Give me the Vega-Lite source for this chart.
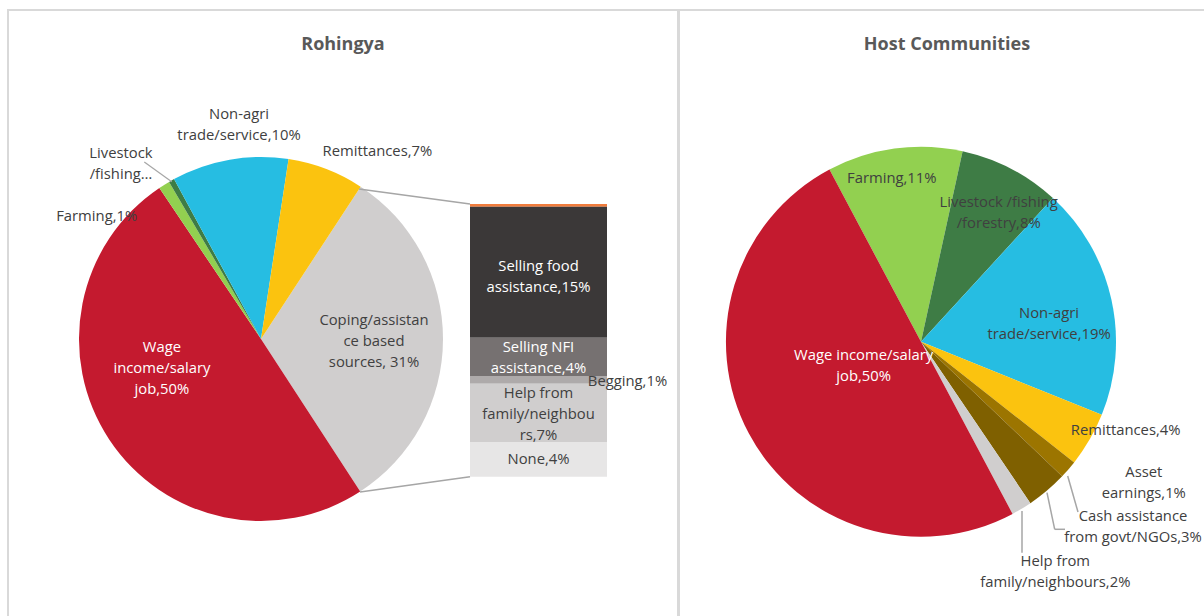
{
  "$schema": "https://vega.github.io/schema/vega-lite/v6.json",
  "padding": {"left": 7, "top": 9, "right": 0, "bottom": 0},
  "spacing": -2,
  "background": "white",
  "config": {
    "view": {"stroke": "#d9d9d9", "strokeWidth": 2},
    "font": "Open Sans",
    "text": {"font": "Open Sans", "fontSize": 14.8, "lineHeight": 21, "lineBreak": "\n", "color": "#404040", "baseline": "middle", "align": "center"},
    "title": {"font": "Open Sans", "fontSize": 18, "fontWeight": "bold", "color": "#595959", "anchor": "middle"}
  },
  "resolve": {"scale": {"color": "independent", "theta": "independent", "y": "independent"}},
  "datasets": {
    "roh": [
      {"i": 1, "cat": "Coping/assistance based sources", "value": 31.6, "label": "Coping/assistan\nce based\nsources, 31%"},
      {"i": 2, "cat": "Wage income/salary job", "value": 49.75, "label": "Wage\nincome/salary\njob,50%"},
      {"i": 3, "cat": "Farming", "value": 1.0, "label": "Farming,1%"},
      {"i": 4, "cat": "Livestock/fishing/forestry", "value": 0.5, "label": "Livestock\n/fishing…"},
      {"i": 5, "cat": "Non-agri trade/service", "value": 10.35, "label": "Non-agri\ntrade/service,10%"},
      {"i": 6, "cat": "Remittances", "value": 6.8, "label": "Remittances,7%"}
    ],
    "rohBar": [
      {"i": 1, "cat": "Other", "value": 0.31, "label": ""},
      {"i": 2, "cat": "Selling food assistance", "value": 15.18, "label": "Selling food\nassistance,15%"},
      {"i": 3, "cat": "Selling NFI assistance", "value": 4.44, "label": "Selling NFI\nassistance,4%"},
      {"i": 4, "cat": "Begging", "value": 0.89, "label": "Begging,1%"},
      {"i": 5, "cat": "Help from family/neighbours", "value": 6.76, "label": "Help from\nfamily/neighbou\nrs,7%"},
      {"i": 6, "cat": "None", "value": 4.02, "label": "None,4%"}
    ],
    "host": [
      {"i": 1, "cat": "Farming", "value": 11.2, "label": "Farming,11%"},
      {"i": 2, "cat": "Livestock/fishing/forestry", "value": 8.4, "label": "Livestock /fishing\n/forestry,8%"},
      {"i": 3, "cat": "Non-agri trade/service", "value": 19.3, "label": "Non-agri\ntrade/service,19%"},
      {"i": 4, "cat": "Remittances", "value": 4.5, "label": "Remittances,4%"},
      {"i": 5, "cat": "Asset earnings", "value": 1.5, "label": "Asset\nearnings,1%"},
      {"i": 6, "cat": "Cash assistance from govt/NGOs", "value": 3.4, "label": "Cash assistance\nfrom govt/NGOs,3%"},
      {"i": 7, "cat": "Help from family/neighbours", "value": 1.7, "label": "Help from\nfamily/neighbours,2%"},
      {"i": 8, "cat": "Wage income/salary job", "value": 50.0, "label": "Wage income/salary\njob,50%"}
    ]
  },
  "hconcat": [
    {
      "width": 670,
      "height": 620,
      "title": {"text": "Rohingya", "offset": -44},
      "layer": [
        {
          "data": {"name": "roh"},
          "mark": {"type": "arc", "radius": 182},
          "encoding": {
            "theta": {"field": "value", "type": "quantitative", "stack": true, "scale": {"range": [0.5794, 6.8626]}},
            "order": {"field": "i", "type": "quantitative"},
            "color": {"field": "cat", "type": "nominal", "legend": null, "scale": {
              "domain": ["Coping/assistance based sources", "Wage income/salary job", "Farming", "Livestock/fishing/forestry", "Non-agri trade/service", "Remittances", "Other", "Selling food assistance", "Selling NFI assistance", "Begging", "Help from family/neighbours", "None"],
              "range": ["#d0cece", "#c41a2f", "#92d050", "#3e7c45", "#26bde2", "#fbc30f", "#f07c3c", "#3b3838", "#767171", "#aeaaaa", "#d0cece", "#e7e6e6"]}},
            "x": {"value": 253},
            "y": {"value": 329}
          }
        },
        {
          "data": {"name": "rohBar"},
          "mark": {"type": "bar", "orient": "vertical"},
          "encoding": {
            "x": {"value": 462},
            "x2": {"value": 599},
            "y": {"field": "value", "type": "quantitative", "stack": "zero", "axis": null, "scale": {"domain": [0, 31.6], "range": [466.7, 194], "nice": false}},
            "order": {"field": "i", "type": "quantitative", "sort": "descending"},
            "color": {"field": "cat", "type": "nominal", "legend": null}
          }
        },
        {
          "data": {"values": [{}]},
          "mark": {"type": "rule", "color": "#a6a6a6", "strokeWidth": 1.5},
          "encoding": {"x": {"value": 351}, "y": {"value": 179}, "x2": {"value": 462}, "y2": {"value": 194}}
        },
        {
          "data": {"values": [{}]},
          "mark": {"type": "rule", "color": "#a6a6a6", "strokeWidth": 1.5},
          "encoding": {"x": {"value": 352}, "y": {"value": 482}, "x2": {"value": 462}, "y2": {"value": 466.7}}
        },
        {
          "data": {"values": [{}]},
          "mark": {"type": "rule", "color": "#a6a6a6", "strokeWidth": 1.2},
          "encoding": {"x": {"value": 136.3}, "y": {"value": 152}, "x2": {"value": 163.7}, "y2": {"value": 171.7}}
        },
        {
          "data": {"name": "rohBar"},
          "mark": {"type": "text", "color": "white", "dy": 60.3},
          "encoding": {
            "x": {"value": 530.5},
            "y": {"field": "value", "type": "quantitative", "stack": "zero"},
            "order": {"field": "i", "type": "quantitative", "sort": "descending"},
            "text": {"condition": {"test": "datum.i == 2", "field": "label", "type": "nominal"}, "value": ""}
          }
        },
        {
          "data": {"name": "rohBar"},
          "mark": {"type": "text", "color": "white", "dy": 10.8},
          "encoding": {
            "x": {"value": 530.5},
            "y": {"field": "value", "type": "quantitative", "stack": "zero"},
            "order": {"field": "i", "type": "quantitative", "sort": "descending"},
            "text": {"condition": {"test": "datum.i == 3", "field": "label", "type": "nominal"}, "value": ""}
          }
        },
        {
          "data": {"name": "rohBar"},
          "mark": {"type": "text", "dx": 89, "dy": 6.5},
          "encoding": {
            "x": {"value": 530.5},
            "y": {"field": "value", "type": "quantitative", "stack": "zero"},
            "order": {"field": "i", "type": "quantitative", "sort": "descending"},
            "text": {"condition": {"test": "datum.i == 4", "field": "label", "type": "nominal"}, "value": ""}
          }
        },
        {
          "data": {"name": "rohBar"},
          "mark": {"type": "text", "dy": 10.3},
          "encoding": {
            "x": {"value": 530.5},
            "y": {"field": "value", "type": "quantitative", "stack": "zero"},
            "order": {"field": "i", "type": "quantitative", "sort": "descending"},
            "text": {"condition": {"test": "datum.i == 5", "field": "label", "type": "nominal"}, "value": ""}
          }
        },
        {
          "data": {"name": "rohBar"},
          "mark": {"type": "text", "dy": 18},
          "encoding": {
            "x": {"value": 530.5},
            "y": {"field": "value", "type": "quantitative", "stack": "zero"},
            "order": {"field": "i", "type": "quantitative", "sort": "descending"},
            "text": {"condition": {"test": "datum.i == 6", "field": "label", "type": "nominal"}, "value": ""}
          }
        },
        {
          "data": {"name": "roh"},
          "mark": {"type": "text", "radius": 90, "dx": -24, "dy": -41, "color": "white"},
          "encoding": {
            "theta": {"field": "value", "type": "quantitative", "stack": true},
            "order": {"field": "i", "type": "quantitative"},
            "x": {"value": 253}, "y": {"value": 329},
            "text": {"condition": {"test": "datum.i == 2", "field": "label", "type": "nominal"}, "value": ""}
          }
        },
        {
          "data": {"name": "roh"},
          "mark": {"type": "text", "radius": 113, "dy": -18},
          "encoding": {
            "theta": {"field": "value", "type": "quantitative", "stack": true},
            "order": {"field": "i", "type": "quantitative"},
            "x": {"value": 253}, "y": {"value": 329},
            "text": {"condition": {"test": "datum.i == 1", "field": "label", "type": "nominal"}, "value": ""}
          }
        },
        {
          "data": {"name": "roh"},
          "mark": {"type": "text", "radius": 150, "dx": -44, "dy": 5, "align": "right"},
          "encoding": {
            "theta": {"field": "value", "type": "quantitative", "stack": true},
            "order": {"field": "i", "type": "quantitative"},
            "x": {"value": 253}, "y": {"value": 329},
            "text": {"condition": {"test": "datum.i == 3", "field": "label", "type": "nominal"}, "value": ""}
          }
        },
        {
          "data": {"name": "roh"},
          "mark": {"type": "text", "radius": 230, "dx": -27, "dy": 15.5},
          "encoding": {
            "theta": {"field": "value", "type": "quantitative", "stack": true},
            "order": {"field": "i", "type": "quantitative"},
            "x": {"value": 253}, "y": {"value": 329},
            "text": {"condition": {"test": "datum.i == 4", "field": "label", "type": "nominal"}, "value": ""}
          }
        },
        {
          "data": {"name": "roh"},
          "mark": {"type": "text", "radius": 215, "dx": 15, "dy": -12.5},
          "encoding": {
            "theta": {"field": "value", "type": "quantitative", "stack": true},
            "order": {"field": "i", "type": "quantitative"},
            "x": {"value": 253}, "y": {"value": 329},
            "text": {"condition": {"test": "datum.i == 5", "field": "label", "type": "nominal"}, "value": ""}
          }
        },
        {
          "data": {"name": "roh"},
          "mark": {"type": "text", "radius": 200, "dx": -10, "align": "left"},
          "encoding": {
            "theta": {"field": "value", "type": "quantitative", "stack": true},
            "order": {"field": "i", "type": "quantitative"},
            "x": {"value": 253}, "y": {"value": 329},
            "text": {"condition": {"test": "datum.i == 6", "field": "label", "type": "nominal"}, "value": ""}
          }
        }
      ]
    },
    {
      "width": 536,
      "height": 620,
      "title": {"text": "Host Communities", "offset": -44},
      "layer": [
        {
          "data": {"name": "host"},
          "mark": {"type": "arc", "radius": 195},
          "encoding": {
            "theta": {"field": "value", "type": "quantitative", "stack": true, "scale": {"range": [-0.4887, 5.7945]}},
            "order": {"field": "i", "type": "quantitative"},
            "color": {"field": "cat", "type": "nominal", "legend": null, "scale": {
              "domain": ["Farming", "Livestock/fishing/forestry", "Non-agri trade/service", "Remittances", "Asset earnings", "Cash assistance from govt/NGOs", "Help from family/neighbours", "Wage income/salary job"],
              "range": ["#92d050", "#3e7c45", "#26bde2", "#fbc30f", "#9c7500", "#7f6000", "#d0cece", "#c41a2f"]}},
            "x": {"value": 242},
            "y": {"value": 331.7}
          }
        },
        {
          "data": {"values": [{}]},
          "mark": {"type": "rule", "color": "#a6a6a6", "strokeWidth": 1.5},
          "encoding": {"x": {"value": 388.7}, "y": {"value": 466}, "x2": {"value": 399}, "y2": {"value": 502}}
        },
        {
          "data": {"values": [{}]},
          "mark": {"type": "rule", "color": "#a6a6a6", "strokeWidth": 1.5},
          "encoding": {"x": {"value": 368}, "y": {"value": 482.7}, "x2": {"value": 375.7}, "y2": {"value": 519.3}}
        },
        {
          "data": {"values": [{}]},
          "mark": {"type": "rule", "color": "#a6a6a6", "strokeWidth": 1.5},
          "encoding": {"x": {"value": 375.7}, "y": {"value": 519.3}, "x2": {"value": 386}, "y2": {"value": 519.3}}
        },
        {
          "data": {"values": [{}]},
          "mark": {"type": "rule", "color": "#a6a6a6", "strokeWidth": 1.5},
          "encoding": {"x": {"value": 343}, "y": {"value": 501}, "x2": {"value": 343}, "y2": {"value": 542.7}}
        },
        {
          "data": {"name": "host"},
          "mark": {"type": "text", "radius": 165, "dx": -6.7, "dy": 1},
          "encoding": {
            "theta": {"field": "value", "type": "quantitative", "stack": true},
            "order": {"field": "i", "type": "quantitative"},
            "x": {"value": 242}, "y": {"value": 331.7},
            "text": {"condition": {"test": "datum.i == 1", "field": "label", "type": "nominal"}, "value": ""}
          }
        },
        {
          "data": {"name": "host"},
          "mark": {"type": "text", "radius": 150, "dx": 8.5, "dy": -6},
          "encoding": {
            "theta": {"field": "value", "type": "quantitative", "stack": true},
            "order": {"field": "i", "type": "quantitative"},
            "x": {"value": 242}, "y": {"value": 331.7},
            "text": {"condition": {"test": "datum.i == 2", "field": "label", "type": "nominal"}, "value": ""}
          }
        },
        {
          "data": {"name": "host"},
          "mark": {"type": "text", "radius": 150, "dx": -18.3, "dy": 5},
          "encoding": {
            "theta": {"field": "value", "type": "quantitative", "stack": true},
            "order": {"field": "i", "type": "quantitative"},
            "x": {"value": 242}, "y": {"value": 331.7},
            "text": {"condition": {"test": "datum.i == 3", "field": "label", "type": "nominal"}, "value": ""}
          }
        },
        {
          "data": {"name": "host"},
          "mark": {"type": "text", "radius": 210, "dx": 23, "dy": -16},
          "encoding": {
            "theta": {"field": "value", "type": "quantitative", "stack": true},
            "order": {"field": "i", "type": "quantitative"},
            "x": {"value": 242}, "y": {"value": 331.7},
            "text": {"condition": {"test": "datum.i == 4", "field": "label", "type": "nominal"}, "value": ""}
          }
        },
        {
          "data": {"name": "host"},
          "mark": {"type": "text", "radius": 240, "dx": 41.5, "dy": -25.5},
          "encoding": {
            "theta": {"field": "value", "type": "quantitative", "stack": true},
            "order": {"field": "i", "type": "quantitative"},
            "x": {"value": 242}, "y": {"value": 331.7},
            "text": {"condition": {"test": "datum.i == 5", "field": "label", "type": "nominal"}, "value": ""}
          }
        },
        {
          "data": {"name": "host"},
          "mark": {"type": "text", "radius": 240, "dx": 57, "dy": -7.5},
          "encoding": {
            "theta": {"field": "value", "type": "quantitative", "stack": true},
            "order": {"field": "i", "type": "quantitative"},
            "x": {"value": 242}, "y": {"value": 331.7},
            "text": {"condition": {"test": "datum.i == 6", "field": "label", "type": "nominal"}, "value": ""}
          }
        },
        {
          "data": {"name": "host"},
          "mark": {"type": "text", "radius": 240, "dx": 10.5, "dy": 14.5},
          "encoding": {
            "theta": {"field": "value", "type": "quantitative", "stack": true},
            "order": {"field": "i", "type": "quantitative"},
            "x": {"value": 242}, "y": {"value": 331.7},
            "text": {"condition": {"test": "datum.i == 7", "field": "label", "type": "nominal"}, "value": ""}
          }
        },
        {
          "data": {"name": "host"},
          "mark": {"type": "text", "radius": 65, "dy": -16.5, "color": "white"},
          "encoding": {
            "theta": {"field": "value", "type": "quantitative", "stack": true},
            "order": {"field": "i", "type": "quantitative"},
            "x": {"value": 242}, "y": {"value": 331.7},
            "text": {"condition": {"test": "datum.i == 8", "field": "label", "type": "nominal"}, "value": ""}
          }
        }
      ]
    }
  ]
}
